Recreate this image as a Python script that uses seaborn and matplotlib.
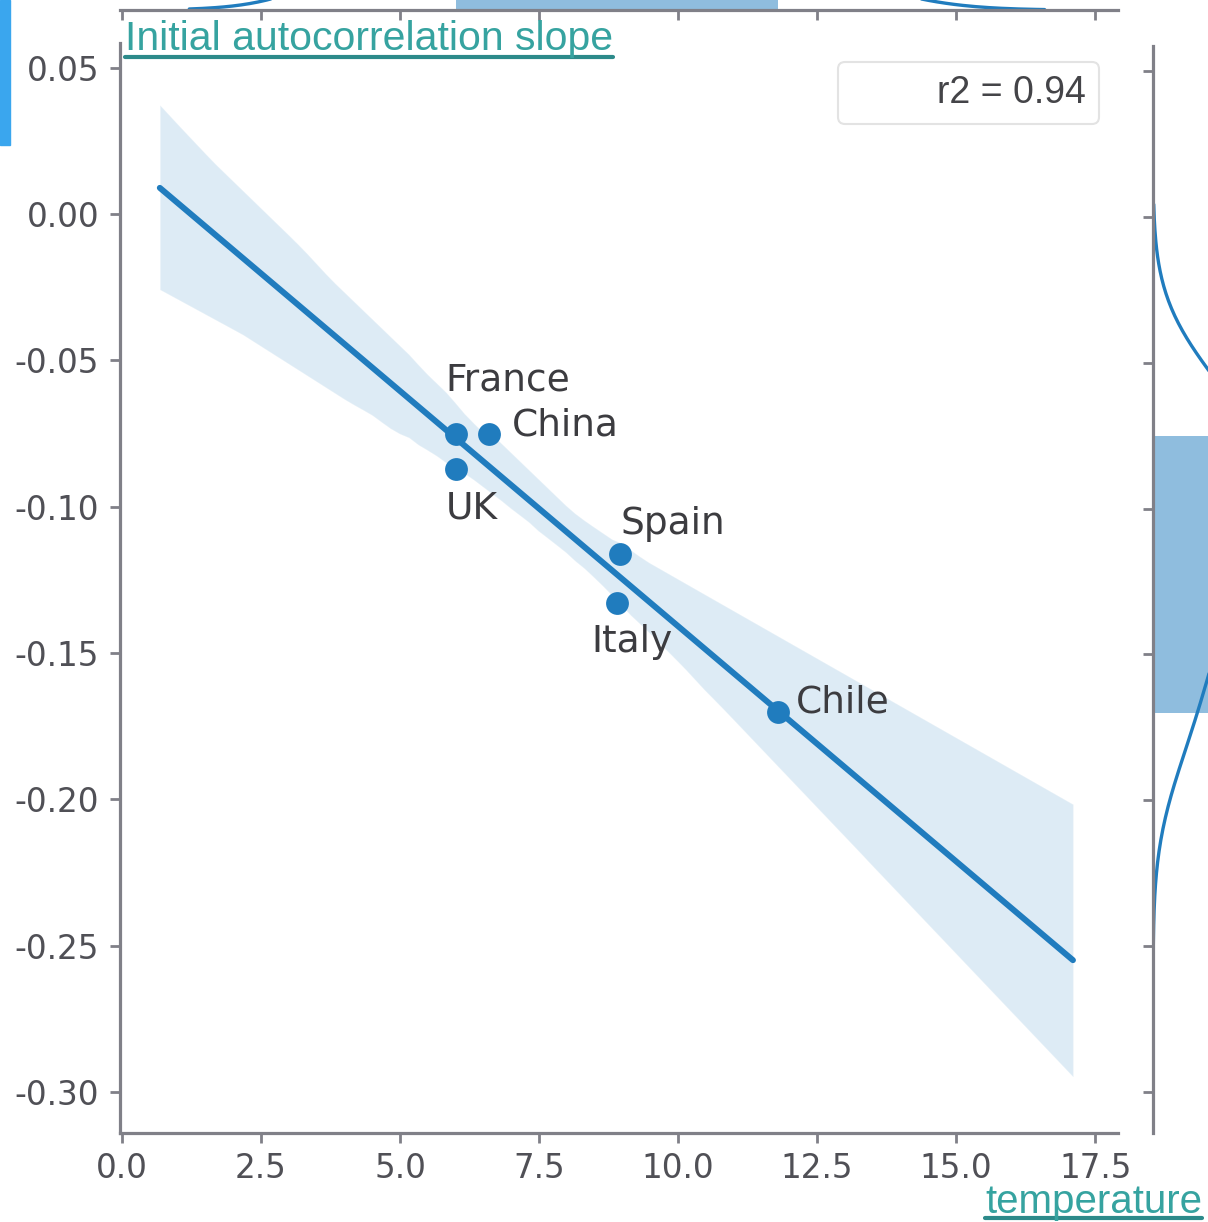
import matplotlib
matplotlib.use("Agg")
import matplotlib.pyplot as plt
from matplotlib.lines import Line2D
from matplotlib.patches import Rectangle
import numpy as np
import pandas as pd
import seaborn as sns

# Per-country mean temperature vs. initial slope of the autocorrelation curve
countries = ["France", "China", "UK", "Spain", "Italy", "Chile"]
temperature = [6.0, 6.6, 6.0, 8.95, 8.9, 11.8]
ac_slope = [-0.075, -0.075, -0.087, -0.116, -0.133, -0.170]

x_ticks = [0.0, 2.5, 5.0, 7.5, 10.0, 12.5, 15.0, 17.5]
y_ticks = [0.05, 0.00, -0.05, -0.10, -0.15, -0.20, -0.25, -0.30]

x_label = "temperature"
y_label = "Initial autocorrelation slope"

df = pd.DataFrame({"country": countries, "temperature": temperature, "slope": ac_slope})

BLUE = "#207cbe"
TEAL = "#36a3a0"
TEAL_DARK = "#2c8a8a"
W, H = 1208, 1222

sns.set_style("ticks")
plt.rcParams.update({
    "axes.unicode_minus": False,
    "axes.edgecolor": "#808088",
    "axes.linewidth": 2.3,
    "xtick.color": "#808088",
    "ytick.color": "#808088",
    "xtick.labelcolor": "#505056",
    "ytick.labelcolor": "#505056",
    "xtick.major.size": 7,
    "ytick.major.size": 7,
    "xtick.major.width": 2.0,
    "ytick.major.width": 2.0,
    "xtick.major.pad": 7,
    "ytick.major.pad": 8,
    "xtick.labelsize": 23.5,
    "ytick.labelsize": 23.5,
    "font.family": ["DejaVu Sans"],
})

g = sns.JointGrid(data=df, x="temperature", y="slope", height=8)
fig = g.figure
fig.set_size_inches(W / 100, H / 100)
fig.set_dpi(100)


def px_box(left, top, right, bottom):
    return [left / W, 1 - bottom / H, (right - left) / W, (bottom - top) / H]


ax = g.ax_joint
g.ax_joint.set_position(px_box(120, 43, 1118, 1133))
g.ax_marg_x.set_position(px_box(120, 10 - 172, 1118, 10))
g.ax_marg_y.set_position(px_box(1153, 46, 1153 + 172, 1133))

# Marginal distributions: histogram + KDE (KDE extended past the data range)
hist_kws = dict(bins=2, kde=True, color=BLUE, alpha=0.5, linewidth=0,
                kde_kws=dict(cut=3), line_kws=dict(linewidth=2.4))
sns.histplot(x=df["temperature"], ax=g.ax_marg_x, **hist_kws)
sns.histplot(y=df["slope"], ax=g.ax_marg_y, **hist_kws)

# Regression fit extended over the range of the fitted line
ax.set_xlim(0.68, 17.1)
sns.regplot(data=df, x="temperature", y="slope", ax=ax, truncate=False,
            color=BLUE, seed=3,
            scatter_kws=dict(s=270, linewidths=0, alpha=1, zorder=3),
            line_kws=dict(linewidth=4.3))

ax.set_xlim(-0.036, 17.91)
ax.set_ylim(-0.314, 0.0585)
ax.set_xticks(x_ticks)
ax.set_yticks(y_ticks)
ax.set_xlabel("")
ax.set_ylabel("")
g.ax_marg_x.set_xlabel("")
g.ax_marg_x.set_ylabel("")
g.ax_marg_y.set_xlabel("")
g.ax_marg_y.set_ylabel("")

# Country labels next to their points
label_offsets = {
    "France": (-7.2, 31),
    "China": (16.5, -1.5),
    "UK": (-7.2, -36),
    "Spain": (0.7, 14.4),
    "Italy": (-18.7, -35.3),
    "Chile": (13, -0.7),
}
for name, xv, yv in zip(countries, temperature, ac_slope):
    ax.annotate(name, (xv, yv), xytext=label_offsets[name],
                textcoords="offset points", ha="left", va="baseline",
                fontsize=27, color="#3c3c40")

# Goodness of fit
x_arr = np.asarray(temperature)
y_arr = np.asarray(ac_slope)
r2 = np.corrcoef(x_arr, y_arr)[0, 1] ** 2
leg = ax.legend([Line2D([], [], linestyle="none")], [f"r2 = {r2:.2f}"],
                loc="upper right", handlelength=1.5, handletextpad=0.8,
                prop=dict(family="Liberation Sans", size=27),
                frameon=True, fancybox=True, borderpad=0.35)
leg.get_frame().set_edgecolor("#dcdcdc")
leg.get_frame().set_linewidth(1.5)
for t in leg.get_texts():
    t.set_color("#444448")

# Axis titles drawn as underlined captions
fig.add_artist(Rectangle((0, 1 - 145 / H), 10 / W, 145 / H,
                         transform=fig.transFigure, color="#3aa6ee", zorder=5))
t_y = fig.text(125 / W, 1 - 50 / H, y_label, fontsize=29.5,
               family="Liberation Sans", color=TEAL, ha="left", va="baseline")
t_x = fig.text(1202 / W, 1 - 1213 / H, x_label, fontsize=29,
               family="Liberation Sans", color=TEAL, ha="right", va="baseline")

fig.canvas.draw()
renderer = fig.canvas.get_renderer()
for txt, y_px in ((t_y, 57), (t_x, 1218)):
    bb = txt.get_window_extent(renderer)
    fig.add_artist(Line2D([bb.x0 / W, bb.x1 / W], [1 - y_px / H] * 2,
                          transform=fig.transFigure, color=TEAL_DARK,
                          linewidth=3))

fig.savefig("out.png", dpi=100)
